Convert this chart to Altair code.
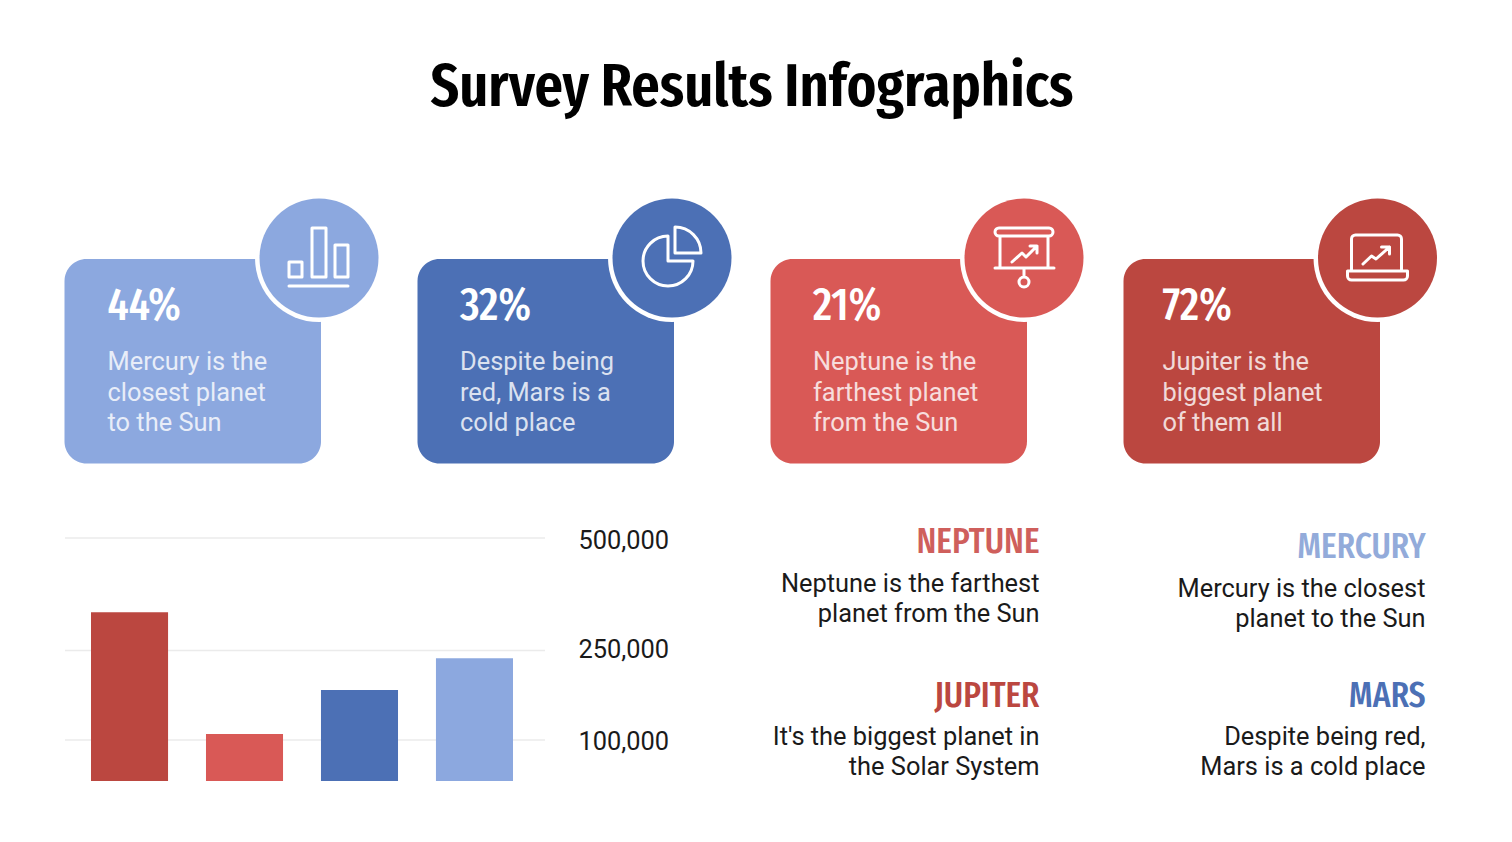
import altair as alt
import pandas as pd

# Valores
card_pct = ['44%', '32%', '21%', '72%']
card_lines = [
    ['Mercury is the', 'closest planet', 'to the Sun'],
    ['Despite being', 'red, Mars is a', 'cold place'],
    ['Neptune is the', 'farthest planet', 'from the Sun'],
    ['Jupiter is the', 'biggest planet', 'of them all'],
]
card_colors = ['#8CA8DF', '#4C70B5', '#D95956', '#BB4740']

bar_planets = ['Jupiter', 'Neptune', 'Mars', 'Mercury']
bar_values = [335000, 110000, 184000, 237000]
bar_colors = ['#BB4740', '#D95956', '#4C70B5', '#8CA8DF']
tick_values = [500000, 250000, 100000]
tick_labels = ['500,000', '250,000', '100,000']

note_names = ['NEPTUNE', 'MERCURY', 'JUPITER', 'MARS']
note_colors = ['#CF5F5C', '#93ABDA', '#BB4740', '#4C70B5']
note_lines = [
    ['Neptune is the farthest', 'planet from the Sun'],
    ['Mercury is the closest', 'planet to the Sun'],
    ["It's the biggest planet in", 'the Solar System'],
    ['Despite being red,', 'Mars is a cold place'],
]

# Layout, em pixels da imagem
card_left = [64.5, 417.5, 770.5, 1123.5]
card_text_x = [107.5, 460, 813, 1162.5]
circle_x = [319, 672, 1024, 1377.5]
circle_y = 258
tick_text_y = [549, 658, 750]
note_right = [1039.5, 1425.5, 1039.5, 1425.5]
note_head_y = [553, 558, 707, 707]
note_line_y = [[592, 622], [597, 627], [745, 775], [745, 775]]

# Ícones: caminhos em pixels relativos ao centro do círculo (size=4 -> escala 1)
ICONS = [
    'M-30,4H-17V19H-30Z M-7,-30H7V19H-7Z M16,-13H29V19H16Z M-30,28H29',
    'M-4,-22L-4,3L21,3A25,25 0 1 1 -4,-22Z M3,-31L3,-5L29,-5A26,26 0 0 0 3,-31Z',
    'M-25,-30H25A4,4 0 0 1 25,-22H-25A4,4 0 0 1 -25,-30Z M-24,-22V10 M24,-22V10 M-29,10H30 M0,10V19 '
    'M5,24A5,5 0 1 1 -5,24A5,5 0 1 1 5,24Z M-12,4L-2,-5L2,-1L13,-12 M6,-12H13V-5',
    'M-22,-23H20A4,4 0 0 1 24,-19V13H-26V-19A4,4 0 0 1 -22,-23Z M-30,13H30V18A4,4 0 0 1 26,22H-26A4,4 0 0 1 -30,18Z '
    'M-14.5,6L-6,-2L-1.5,1L12,-11 M4,-11H12V-4',
]

PX = alt.Scale(domain=[8, 1504], range=[0, 1496])
PY = alt.Scale(domain=[8, 834], range=[0, 826])
Y_BARS = alt.Scale(domain=[0, 100000, 250000, 500000], range=[773, 732, 642.5, 530])
X_BARS = alt.Scale(domain=bar_planets, range=[83, 505], paddingInner=0.33, paddingOuter=0)


def px_x(field):
    return alt.X(f'{field}:Q', scale=PX, axis=None)


def px_y(field):
    return alt.Y(f'{field}:Q', scale=PY, axis=None)


def text_layer(rows, **mark):
    df = pd.DataFrame(rows, columns=['x', 'y', 'label', 'color'])
    return alt.Chart(df).mark_text(baseline='alphabetic', **mark).encode(
        x=px_x('x'),
        y=px_y('y'),
        text='label:N',
        color=alt.Color('color:N', scale=None)
    )


layers = []

# Cartões
cards = pd.DataFrame({
    'x0': card_left,
    'x1': [x + 256.5 for x in card_left],
    'y0': [259] * 4,
    'y1': [463.5] * 4,
    'color': card_colors,
})
layers.append(alt.Chart(cards).mark_rect(cornerRadius=22).encode(
    x=px_x('x0'), x2='x1:Q', y=px_y('y0'), y2='y1:Q',
    color=alt.Color('color:N', scale=None)
))

# Círculos com anel branco
circles = pd.DataFrame({'x': circle_x, 'y': [circle_y] * 4, 'color': card_colors})
layers.append(alt.Chart(circles).mark_point(filled=True, opacity=1, size=128 ** 2, color='white').encode(
    x=px_x('x'), y=px_y('y')
))
layers.append(alt.Chart(circles).mark_point(filled=True, opacity=1, size=119 ** 2).encode(
    x=px_x('x'), y=px_y('y'), color=alt.Color('color:N', scale=None)
))

# Ícones
for i, path in enumerate(ICONS):
    icon = pd.DataFrame({'x': [circle_x[i]], 'y': [circle_y]})
    layers.append(alt.Chart(icon).mark_point(
        shape=path, size=4, filled=False, opacity=1, color='white', strokeWidth=3,
        strokeJoin='round', strokeCap='round'
    ).encode(x=px_x('x'), y=px_y('y')))

# Título
layers.append(text_layer(
    [(752, 106, 'Survey Results Infographics', '#000000')],
    font='Fira Sans Extra Condensed', fontWeight=600, fontSize=61, align='center'
))

# Textos dos cartões
pct_rows = [(x, 320, p, 'white') for x, p in zip(card_text_x, card_pct)]
layers.append(text_layer(pct_rows, font='Fira Sans Extra Condensed', fontWeight=500, fontSize=46, align='left'))
desc_rows = []
for x, lines in zip(card_text_x, card_lines):
    for y, line in zip([370, 401, 431], lines):
        desc_rows.append((x, y, line, 'white'))
layers.append(text_layer(desc_rows, font='Roboto', fontSize=25.4, align='left', opacity=0.8))

# Gráfico de barras
grid = pd.DataFrame({'x0': [65] * 3, 'x1': [545] * 3, 'value': tick_values})
layers.append(alt.Chart(grid).mark_rule(color='#EBEBEB', strokeWidth=1.5).encode(
    x=px_x('x0'), x2='x1:Q', y=alt.Y('value:Q', scale=Y_BARS, axis=None)
))
bars = pd.DataFrame({'planet': bar_planets, 'value': bar_values, 'color': bar_colors})
layers.append(alt.Chart(bars).mark_bar().encode(
    x=alt.X('planet:N', scale=X_BARS, axis=None, sort=None),
    y=alt.Y('value:Q', scale=Y_BARS, axis=None),
    color=alt.Color('color:N', scale=None)
))
tick_rows = [(669, y, t, '#1A1A1A') for y, t in zip(tick_text_y, tick_labels)]
layers.append(text_layer(tick_rows, font='Roboto', fontSize=25.4, align='right'))

# Notas à direita
head_rows = [(x, y, n, c) for x, y, n, c in zip(note_right, note_head_y, note_names, note_colors)]
layers.append(text_layer(head_rows, font='Fira Sans Extra Condensed', fontWeight=500, fontSize=36, align='right'))
line_rows = []
for x, ys, lines in zip(note_right, note_line_y, note_lines):
    for y, line in zip(ys, lines):
        line_rows.append((x, y, line, '#1A1A1A'))
layers.append(text_layer(line_rows, font='Roboto', fontSize=25.4, align='right'))

chart = alt.layer(*layers).resolve_scale(x='independent', y='independent', color='independent').properties(
    width=1496,
    height=826,
    padding=0,
    background='white',
    autosize=alt.AutoSizeParams(type='none')
).configure_view(strokeWidth=0)

chart.save('out.html', embed_options={'renderer': 'svg', 'actions': False})
